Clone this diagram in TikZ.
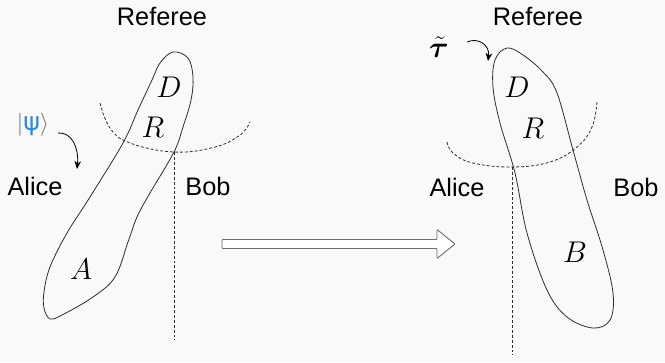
\documentclass[tikz,border=0pt]{standalone}
\usepackage{graphicx}
\usepackage{bm}
\usepackage{fontspec}
\setmainfont{Liberation Sans}
\newfontfamily\symfont{DejaVu Sans}
\usetikzlibrary{arrows.meta}
\definecolor{bgc}{RGB}{249,249,249}
\definecolor{linec}{RGB}{45,45,45}
\definecolor{psiblue}{RGB}{40,140,220}
\definecolor{arrc}{RGB}{110,110,110}
\newcommand{\mathlbl}[1]{\scalebox{1.3}{\fontsize{17.28}{19}\selectfont$#1$}}
\begin{document}
\begin{tikzpicture}[x=0.75pt,y=-0.75pt,
  lbl/.style={font=\fontsize{19}{21}\selectfont, inner sep=0pt},
  mlbl/.style={inner sep=0pt},
  blob/.style={draw=linec, line width=0.6pt},
  cut/.style={draw=linec, line width=0.6pt, dash pattern=on 2.2pt off 1.5pt},
  curarr/.style={draw=black, line width=0.6pt, -{Stealth[length=6pt,width=5pt]}}]
\fill[bgc] (0,0) rectangle (665,362);
\useasboundingbox (0,0) rectangle (665,362);

% ---------- left picture ----------
\node[lbl] (ref1) at (162,16) {Referee};
\node[lbl] (alice1) at (35,186) {Alice};
\node[lbl] (bob1) at (208,186) {Bob};
\draw[blob] plot[smooth cycle, tension=0.6] coordinates {
  (173,52) (188,58) (193,77) (191,100) (183,127) (174,152) (150,193)
  (137,217) (128,242) (115,277) (93,297) (62,315) (50,319) (44,308) (44,292)
  (50,267) (67,233) (90,197) (123,143) (138,110) (152,80) (160,63)};
\node[mlbl] (D1) at (169,87) {\mathlbl{D}};
\node[mlbl] (R1) at (153,127) {\mathlbl{R}};
\node[mlbl] (A1) at (81,269) {\mathlbl{A}};
\draw[cut] plot[smooth, tension=0.7] coordinates {
  (100,103) (110,128) (130,143) (174,152) (215,147) (240,135) (250,122)};
\coordinate (v1top) at (174,152);
\coordinate (v1bot) at (174,340);
\draw[cut] (v1top) -- (v1bot);
\node[inner sep=0pt, font=\fontsize{19}{21}\selectfont] (psi) at (33,125)
  {\textcolor{arrc}{$|$}\textcolor{psiblue}{\symfont ψ}\textcolor{arrc}{$\rangle$}};
\coordinate (p1s) at (58,133);
\coordinate (p1e) at (77,169);
\draw[curarr] (p1s) .. controls (72,132) and (79,148) .. (p1e);

% ---------- big arrow ----------
\coordinate (arrL) at (222,244);
\coordinate (arrR) at (455,244);
\draw[draw=arrc, fill=white, line width=0.7pt, rounded corners=0.6pt]
  (222,239.5) -- (437,239.5) -- (437,229.5) -- (arrR) -- (437,258.5)
  -- (437,248.5) -- (222,248.5) -- cycle;

% ---------- right picture ----------
\node[lbl] (ref2) at (538,16) {Referee};
\node[lbl] (alice2) at (457,187) {Alice};
\node[lbl] (bob2) at (636,187) {Bob};
\draw[blob] plot[smooth cycle, tension=0.6] coordinates {
  (507,48) (523,55) (543,72) (557,93) (573,150) (587,200) (603,250)
  (613,293) (610,320) (593,328) (567,317) (547,290) (527,233)
  (515,173) (500,123) (493,87) (495,60)};
\node[mlbl] (D2) at (517,87) {\mathlbl{D}};
\node[mlbl] (R2) at (533,128) {\mathlbl{R}};
\node[mlbl] (B2) at (575,252) {\mathlbl{B}};
\draw[cut] plot[smooth, tension=0.7] coordinates {
  (447,142) (453,153) (473,163) (512,167) (550,162) (577,147) (592,127) (597,102)};
\coordinate (v2top) at (512,167);
\coordinate (v2bot) at (512,355);
\draw[cut] (v2top) -- (v2bot);
\node[mlbl] (tau) at (439,47) {\mathlbl{\bm{\tilde{\tau}}}};
\coordinate (t2s) at (467,42);
\coordinate (t2e) at (488,61);
\draw[curarr] (t2s) .. controls (478,37) and (490,45) .. (t2e);
\end{tikzpicture}
\end{document}
